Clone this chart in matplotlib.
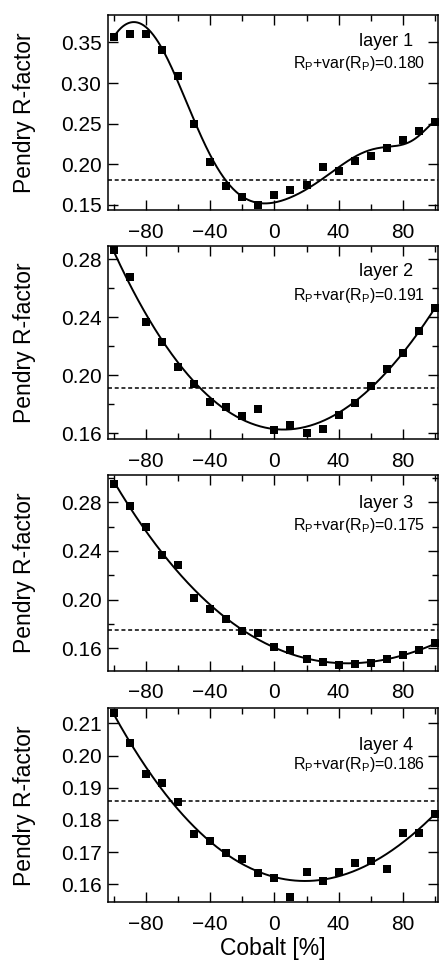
import numpy as np
import matplotlib
matplotlib.use('Agg')
import matplotlib.pyplot as plt
from matplotlib.ticker import MultipleLocator
from numpy.polynomial import Polynomial

plt.rcParams['font.family'] = ['Liberation Sans', 'DejaVu Sans']

# cobalt content [%]
cobalt = [-100, -90, -80, -70, -60, -50, -40, -30, -20, -10, 0,
          10, 20, 30, 40, 50, 60, 70, 80, 90, 100]

# Pendry R-factor per layer
rp_layer1 = [0.357, 0.360, 0.361, 0.341, 0.309, 0.249, 0.203, 0.173, 0.159, 0.150, 0.1615,
             0.168, 0.174, 0.196, 0.192, 0.2035, 0.210, 0.220, 0.230, 0.2405, 0.2517]
rp_layer2 = [0.2864, 0.2676, 0.2366, 0.2228, 0.2057, 0.1938, 0.1814, 0.1779, 0.1720, 0.1768, 0.1621,
             0.1657, 0.1600, 0.1628, 0.1724, 0.1807, 0.1926, 0.2041, 0.2156, 0.2306, 0.2462]
rp_layer3 = [0.2948, 0.2773, 0.2595, 0.2364, 0.2282, 0.2011, 0.1923, 0.1838, 0.1745, 0.1723, 0.1614,
             0.1584, 0.1510, 0.1488, 0.1463, 0.1471, 0.1479, 0.1510, 0.1545, 0.1586, 0.1641]
rp_layer4 = [0.2131, 0.2038, 0.1942, 0.1914, 0.1855, 0.1755, 0.1736, 0.1698, 0.1678, 0.1634, 0.1621,
             0.1560, 0.1637, 0.1611, 0.1637, 0.1665, 0.1673, 0.1647, 0.1761, 0.1761, 0.1820]

# fit curve of layer 1 (the other layers are fitted below)
fit1_x = [-100, -95, -90, -85, -80, -70, -60, -50, -40, -30, -20, -10, 0,
          10, 20, 30, 40, 50, 60, 70, 80, 90, 100]
fit1_y = [0.357, 0.3685, 0.3755, 0.375, 0.3675, 0.341, 0.304, 0.254, 0.209, 0.178, 0.1615, 0.154, 0.153,
          0.157, 0.168, 0.183, 0.198, 0.209, 0.216, 0.221, 0.226, 0.234, 0.253]

# R_P + var(R_P) thresholds
thresholds = [0.180, 0.191, 0.175, 0.186]
layer_names = ['layer 1', 'layer 2', 'layer 3', 'layer 4']

ylims = [(0.1435, 0.3839), (0.1561, 0.2895), (0.1416, 0.3020), (0.1544, 0.2147)]
ymajor = [0.05, 0.04, 0.04, 0.01]
yminor = [None, 0.02, 0.02, None]
ytext = [(0.863, 0.752), (0.865, 0.744), (0.857, 0.746), (0.81, 0.709)]

# axes boxes in figure fraction (left, bottom, width, height)
boxes = [(0.2442, 0.7828, 0.7497, 0.2017),
         (0.2442, 0.5460, 0.7497, 0.2001),
         (0.2442, 0.3064, 0.7497, 0.2019),
         (0.2442, 0.0669, 0.7497, 0.2006)]

fig = plt.figure(figsize=(4.41, 9.67), dpi=100)

xf = np.linspace(-100, 100, 400)
all_rp = [rp_layer1, rp_layer2, rp_layer3, rp_layer4]
for i, rp in enumerate(all_rp):
    ax = fig.add_axes(boxes[i])
    x = np.array(cobalt, dtype=float)
    y = np.array(rp)

    # smooth curve
    if i == 0:
        p = Polynomial.fit(fit1_x, fit1_y, 10)
    else:
        p = Polynomial.fit(x, y, 3)
    ax.plot(xf, p(xf), color='black', lw=1.4, zorder=2)

    ax.plot(x, y, 's', color='black', ms=5.3, mew=0, zorder=3)
    ax.axhline(thresholds[i], color='black', lw=1.1, dashes=(2.6, 1.8), zorder=1)

    ax.set_xlim(-103.9, 102.1)
    ax.set_ylim(*ylims[i])
    ax.set_xticks([-80, -40, 0, 40, 80])
    ax.set_xticks([-100, -60, -20, 20, 60, 100], minor=True)
    ax.yaxis.set_major_locator(MultipleLocator(ymajor[i]))
    if yminor[i] is not None:
        ax.yaxis.set_minor_locator(MultipleLocator(yminor[i]))
    else:
        ax.yaxis.set_minor_locator(plt.NullLocator())
    ax.yaxis.set_major_formatter(plt.FormatStrFormatter('%.2f'))

    ax.tick_params(which='both', direction='in', top=True, right=True, width=1.0)
    ax.tick_params(which='major', length=7.5, labelsize=15)
    ax.tick_params(axis='x', which='major', pad=9)
    ax.tick_params(axis='y', which='major', pad=4.5)
    ax.tick_params(which='minor', length=4.3)
    for s in ax.spines.values():
        s.set_linewidth(1.1)

    ax.set_ylabel('Pendry R-factor', fontsize=16.5)
    ax.yaxis.set_label_coords(-0.218, 0.5)

    ax.text(0.923, ytext[i][0], layer_names[i], transform=ax.transAxes,
            ha='right', va='center', fontsize=13)
    ax.text(0.96, ytext[i][1],
            r'$\mathregular{R_P}$+var($\mathregular{R_P}$)=' + f'{thresholds[i]:.3f}',
            transform=ax.transAxes, ha='right', va='center', fontsize=11.5)

    if i == 3:
        ax.set_xlabel('Cobalt [%]', fontsize=16.5, labelpad=2)

fig.savefig('out.png', dpi=100)
